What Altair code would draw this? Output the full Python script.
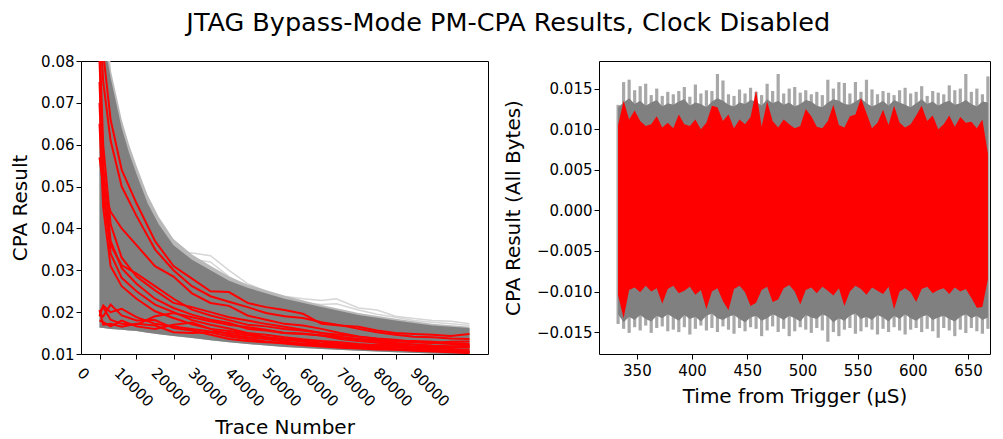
import altair as alt
import pandas as pd

FONT = "DejaVu Sans"

# ---------------- Left panel data ----------------
left_xticks = [0, 10000, 20000, 30000, 40000, 50000, 60000, 70000, 80000, 90000]
left_yticks = [0.01, 0.02, 0.03, 0.04, 0.05, 0.06, 0.07, 0.08]

# envelope of the dense grey bundle of all key guesses
TG = [0, 500, 1000, 2000, 3000, 4000, 6000, 8000, 10000, 13000, 16000, 20000,
      25000, 30000, 35000, 40000, 50000, 60000, 70000, 80000, 90000, 99999]
gray_edge = [0.145, 0.125, 0.108, 0.083, 0.078, 0.074, 0.066, 0.060, 0.055, 0.048, 0.0428, 0.0375,
             0.0338, 0.0311, 0.0285, 0.0266, 0.0239, 0.0217, 0.0198, 0.0184, 0.0172, 0.0165]
gray_hi = [0.140, 0.120, 0.105, 0.081, 0.076, 0.072, 0.064, 0.058, 0.053, 0.046, 0.041, 0.036,
           0.0325, 0.0300, 0.0275, 0.0258, 0.0232, 0.0212, 0.0193, 0.0180, 0.0168, 0.0162]
gray_lo = [0.0163, 0.0163, 0.0162, 0.0161, 0.0160, 0.0159, 0.0158, 0.0156, 0.0155, 0.0151, 0.0147, 0.0143,
           0.0138, 0.0133, 0.0128, 0.0124, 0.0117, 0.0112, 0.0108, 0.0104, 0.0101, 0.0099]

# faint outlier grey traces
TF = [0, 3000, 6000, 10000, 14000, 17000, 19000, 22000, 26000, 30000, 35000, 40000,
      45000, 50000, 55000, 60000, 64000, 70000, 75000, 80000, 85000, 90000, 95000, 99999]
faint1 = [0.12, 0.076, 0.064, 0.054, 0.045, 0.0394, 0.037, 0.0345, 0.034, 0.0335, 0.030, 0.0268,
          0.025, 0.0238, 0.0232, 0.0228, 0.0232, 0.021, 0.0205, 0.019, 0.0185, 0.018, 0.0178, 0.0172]
faint2 = [0.11, 0.075, 0.063, 0.053, 0.044, 0.037, 0.0355, 0.0335, 0.0325, 0.032, 0.0285, 0.026,
          0.0245, 0.0235, 0.0222, 0.0218, 0.022, 0.0205, 0.0195, 0.0188, 0.018, 0.0176, 0.0172, 0.0168]

# red traces (correct key bytes)
TR = [0, 1000, 3000, 6000, 10000, 15000, 20000, 25000, 30000, 35000, 40000, 45000,
      50000, 55000, 60000, 65000, 70000, 75000, 80000, 85000, 90000, 95000, 99999]
red_curves = {
    "r1": [0.100, 0.082, 0.066, 0.054, 0.046, 0.037, 0.031, 0.028, 0.025, 0.0248, 0.0222, 0.0212, 0.0205, 0.0196, 0.0172, 0.0168, 0.0165, 0.0156, 0.0150, 0.0148, 0.0146, 0.0143, 0.0148],
    "r2": [0.092, 0.075, 0.061, 0.050, 0.043, 0.035, 0.030, 0.0262, 0.0238, 0.0225, 0.0212, 0.0198, 0.0190, 0.0186, 0.0176, 0.0169, 0.0160, 0.0152, 0.0146, 0.0141, 0.0140, 0.0137, 0.0136],
    "r3": [0.057, 0.050, 0.044, 0.040, 0.036, 0.031, 0.0285, 0.0245, 0.0222, 0.0215, 0.0192, 0.0182, 0.0172, 0.0168, 0.0160, 0.0150, 0.0142, 0.0136, 0.0131, 0.0128, 0.0126, 0.0129, 0.0130],
    "r4": [0.085, 0.060, 0.041, 0.033, 0.0285, 0.0252, 0.0222, 0.0212, 0.0200, 0.0188, 0.0180, 0.0172, 0.0165, 0.0158, 0.0150, 0.0146, 0.0141, 0.0137, 0.0134, 0.0129, 0.0126, 0.0124, 0.0121],
    "r5": [0.080, 0.055, 0.037, 0.0305, 0.0268, 0.0232, 0.0210, 0.0194, 0.0182, 0.0174, 0.0160, 0.0156, 0.0150, 0.0149, 0.0144, 0.0136, 0.0131, 0.0127, 0.0124, 0.0122, 0.0120, 0.0117, 0.0116],
    "r6": [0.075, 0.050, 0.034, 0.0282, 0.0250, 0.0218, 0.0200, 0.0181, 0.0170, 0.0161, 0.0150, 0.0146, 0.0140, 0.0135, 0.0131, 0.0128, 0.0124, 0.0121, 0.0119, 0.0116, 0.0114, 0.0112, 0.0110],
    "r7": [0.070, 0.048, 0.036, 0.0312, 0.0292, 0.0262, 0.0232, 0.0206, 0.0192, 0.0181, 0.0170, 0.0166, 0.0160, 0.0156, 0.0150, 0.0141, 0.0136, 0.0133, 0.0130, 0.0131, 0.0129, 0.0126, 0.0124],
    "r8": [0.065, 0.045, 0.031, 0.0262, 0.0232, 0.0202, 0.0186, 0.0171, 0.0160, 0.0155, 0.0149, 0.0140, 0.0134, 0.0130, 0.0125, 0.0121, 0.0118, 0.0115, 0.0112, 0.0110, 0.0108, 0.0106, 0.0105],
    "r9": [0.0200, 0.0212, 0.0182, 0.0172, 0.0170, 0.0190, 0.0198, 0.0188, 0.0178, 0.0170, 0.0164, 0.0158, 0.0150, 0.0148, 0.0144, 0.0139, 0.0135, 0.0130, 0.0126, 0.0123, 0.0120, 0.0118, 0.0116],
    "r10": [0.0190, 0.0216, 0.0200, 0.0208, 0.0188, 0.0172, 0.0166, 0.0160, 0.0154, 0.0150, 0.0145, 0.0140, 0.0136, 0.0133, 0.0130, 0.0124, 0.0121, 0.0118, 0.0116, 0.0113, 0.0110, 0.0108, 0.0106],
    "r11": [0.0180, 0.0176, 0.0166, 0.0180, 0.0166, 0.0160, 0.0170, 0.0175, 0.0160, 0.0146, 0.0140, 0.0136, 0.0130, 0.0124, 0.0120, 0.0118, 0.0116, 0.0113, 0.0111, 0.0109, 0.0108, 0.0106, 0.0105],
    "r12": [0.0195, 0.0190, 0.0218, 0.0192, 0.0180, 0.0181, 0.0162, 0.0156, 0.0146, 0.0136, 0.0131, 0.0128, 0.0126, 0.0125, 0.0124, 0.0122, 0.0120, 0.0122, 0.0121, 0.0118, 0.0116, 0.0118, 0.0120],
    "r13": [0.0205, 0.0170, 0.0172, 0.0165, 0.0172, 0.0168, 0.0152, 0.0150, 0.0152, 0.0142, 0.0136, 0.0130, 0.0125, 0.0121, 0.0118, 0.0115, 0.0113, 0.0111, 0.0110, 0.0108, 0.0106, 0.0104, 0.0102],
}

# ---------------- Right panel data ----------------
right_xticks = [350, 400, 450, 500, 550, 600, 650]
right_yticks = [-0.015, -0.010, -0.005, 0.0, 0.005, 0.010, 0.015]
times = list(range(333, 669, 5))

red_hi = [0.0105, 0.0135, 0.0112, 0.0123, 0.0110, 0.0104, 0.0106, 0.0116, 0.0102, 0.0108,
          0.0101, 0.0118, 0.0106, 0.0104, 0.0112, 0.0100, 0.0108, 0.0129, 0.0127, 0.0110,
          0.0118, 0.0101, 0.0112, 0.0106, 0.0115, 0.0148, 0.0103, 0.0134, 0.0110, 0.0102,
          0.0112, 0.0106, 0.0101, 0.0104, 0.0125, 0.0116, 0.0103, 0.0101, 0.0110, 0.0130,
          0.0105, 0.0102, 0.0116, 0.0118, 0.0138, 0.0120, 0.0101, 0.0108, 0.0124, 0.0105,
          0.0129, 0.0108, 0.0102, 0.0106, 0.0117, 0.0129, 0.0110, 0.0117, 0.0100, 0.0106,
          0.0117, 0.0103, 0.0115, 0.0108, 0.0109, 0.0101, 0.0112, 0.0070]
red_lo = [-0.0105, -0.0133, -0.0098, -0.0095, -0.0101, -0.0093, -0.0100, -0.0096, -0.0115, -0.0097,
          -0.0093, -0.0102, -0.0099, -0.0094, -0.0104, -0.0098, -0.0122, -0.0100, -0.0096, -0.0112,
          -0.0123, -0.0097, -0.0093, -0.0101, -0.0118, -0.0114, -0.0098, -0.0094, -0.0113, -0.0110,
          -0.0096, -0.0092, -0.0100, -0.0116, -0.0098, -0.0095, -0.0102, -0.0094, -0.0099, -0.0105,
          -0.0096, -0.0118, -0.0100, -0.0093, -0.0097, -0.0104, -0.0095, -0.0099, -0.0103, -0.0094,
          -0.0122, -0.0100, -0.0096, -0.0101, -0.0113, -0.0097, -0.0094, -0.0102, -0.0098, -0.0096,
          -0.0103, -0.0095, -0.0100, -0.0097, -0.0108, -0.0120, -0.0119, -0.0085]
gray_fringe_hi = [0.0130, 0.0158, 0.0161, 0.0148, 0.0153, 0.0156, 0.0142, 0.0150, 0.0141, 0.0146,
                  0.0143, 0.0147, 0.0152, 0.0140, 0.0155, 0.0144, 0.0148, 0.0147, 0.0168, 0.0160,
                  0.0143, 0.0141, 0.0149, 0.0144, 0.0151, 0.0146, 0.0142, 0.0156, 0.0147, 0.0168,
                  0.0144, 0.0150, 0.0152, 0.0145, 0.0148, 0.0143, 0.0146, 0.0142, 0.0161, 0.0150,
                  0.0158, 0.0157, 0.0144, 0.0158, 0.0146, 0.0161, 0.0149, 0.0143, 0.0147, 0.0145,
                  0.0142, 0.0148, 0.0151, 0.0144, 0.0146, 0.0153, 0.0141, 0.0147, 0.0145, 0.0143,
                  0.0154, 0.0148, 0.0150, 0.0168, 0.0146, 0.0150, 0.0143, 0.0165]
gray_dense_hi = [0.0127, 0.0133, 0.0138, 0.0131, 0.0135, 0.0129, 0.0133, 0.0136, 0.0128, 0.0132,
                 0.0130, 0.0134, 0.0137, 0.0129, 0.0133, 0.0131, 0.0127, 0.0134, 0.0138, 0.0135,
                 0.0130, 0.0128, 0.0133, 0.0131, 0.0136, 0.0134, 0.0129, 0.0137, 0.0132, 0.0135,
                 0.0130, 0.0133, 0.0128, 0.0131, 0.0136, 0.0134, 0.0129, 0.0127, 0.0133, 0.0137,
                 0.0135, 0.0131, 0.0130, 0.0134, 0.0138, 0.0132, 0.0128, 0.0131, 0.0135, 0.0129,
                 0.0136, 0.0133, 0.0130, 0.0127, 0.0132, 0.0137, 0.0131, 0.0134, 0.0129, 0.0133,
                 0.0135, 0.0130, 0.0132, 0.0136, 0.0131, 0.0128, 0.0134, 0.0133]
gray_dense_lo = [-0.0128, -0.0138, -0.0131, -0.0135, -0.0129, -0.0134, -0.0137, -0.0130, -0.0133, -0.0128,
                 -0.0132, -0.0136, -0.0129, -0.0134, -0.0131, -0.0137, -0.0130, -0.0127, -0.0133, -0.0135,
                 -0.0131, -0.0129, -0.0134, -0.0138, -0.0132, -0.0130, -0.0136, -0.0133, -0.0128, -0.0131,
                 -0.0135, -0.0130, -0.0133, -0.0137, -0.0129, -0.0132, -0.0134, -0.0128, -0.0131, -0.0138,
                 -0.0133, -0.0136, -0.0130, -0.0127, -0.0134, -0.0131, -0.0135, -0.0129, -0.0132, -0.0137,
                 -0.0130, -0.0134, -0.0128, -0.0133, -0.0136, -0.0131, -0.0129, -0.0135, -0.0132, -0.0130,
                 -0.0134, -0.0137, -0.0131, -0.0128, -0.0133, -0.0130, -0.0135, -0.0132]
gray_fringe_lo = [-0.0140, -0.0146, -0.0151, -0.0144, -0.0148, -0.0142, -0.0151, -0.0145, -0.0143, -0.0149,
                  -0.0147, -0.0150, -0.0144, -0.0153, -0.0146, -0.0142, -0.0148, -0.0145, -0.0150, -0.0143,
                  -0.0147, -0.0152, -0.0145, -0.0149, -0.0144, -0.0146, -0.0155, -0.0148, -0.0143, -0.0150,
                  -0.0146, -0.0155, -0.0149, -0.0144, -0.0147, -0.0151, -0.0145, -0.0148, -0.0162, -0.0150,
                  -0.0155, -0.0147, -0.0145, -0.0152, -0.0149, -0.0144, -0.0147, -0.0153, -0.0146, -0.0150,
                  -0.0144, -0.0148, -0.0153, -0.0147, -0.0145, -0.0150, -0.0146, -0.0149, -0.0157, -0.0145,
                  -0.0148, -0.0155, -0.0147, -0.0151, -0.0145, -0.0149, -0.0152, -0.0146]

# ---------------- Build tables ----------------
gray_df = pd.DataFrame({"trace": TG, "lo": gray_lo, "hi": gray_hi, "edge": gray_edge})
faint_df = pd.concat([
    pd.DataFrame({"trace": TF, "v": faint1, "k": "f1"}),
    pd.DataFrame({"trace": TF, "v": faint2, "k": "f2"}),
])
red_df = pd.concat([pd.DataFrame({"trace": TR, "v": vals, "k": name})
                    for name, vals in red_curves.items()])

right_df = pd.DataFrame({
    "t": times, "rhi": red_hi, "rlo": red_lo,
    "fhi": gray_fringe_hi, "flo": gray_fringe_lo,
    "dhi": gray_dense_hi, "dlo": gray_dense_lo,
})

# ---------------- Left chart ----------------
xL_scale = alt.Scale(domain=[-5000, 105000], nice=False, zero=False)
yL_scale = alt.Scale(domain=[0.01, 0.08], nice=False, zero=False)
xL_axis = alt.Axis(values=left_xticks, format="d", title="Trace Number",
                   labelAngle=45, labelAlign="left", labelBaseline="top",
                   labelOffset=-15, labelPadding=6, titlePadding=8, labelOverlap=False)
yL_axis = alt.Axis(values=left_yticks, format=".2f", title="CPA Result", titlePadding=10)

edge_area = alt.Chart(gray_df).mark_area(color="#b9b9b9", clip=True).encode(
    x=alt.X("trace:Q", scale=xL_scale, axis=xL_axis),
    y=alt.Y("lo:Q", scale=yL_scale, axis=yL_axis),
    y2="edge:Q",
)
gray_area = alt.Chart(gray_df).mark_area(color="#808080", clip=True).encode(
    x=alt.X("trace:Q", scale=xL_scale, axis=xL_axis),
    y=alt.Y("lo:Q", scale=yL_scale, axis=yL_axis),
    y2="hi:Q",
)
faint_lines = alt.Chart(faint_df).mark_line(color="#d6d6d6", strokeWidth=1.5, clip=True).encode(
    x=alt.X("trace:Q", scale=xL_scale, axis=xL_axis),
    y=alt.Y("v:Q", scale=yL_scale, axis=yL_axis),
    detail="k:N",
)
red_lines = alt.Chart(red_df).mark_line(color="#ff0000", strokeWidth=2, clip=True).encode(
    x=alt.X("trace:Q", scale=xL_scale, axis=xL_axis),
    y=alt.Y("v:Q", scale=yL_scale, axis=yL_axis),
    detail="k:N",
)
left = alt.layer(faint_lines, edge_area, gray_area, red_lines).properties(width=407, height=293)

# ---------------- Right chart ----------------
xR_scale = alt.Scale(domain=[315.7, 669.9], nice=False, zero=False)
yR_scale = alt.Scale(domain=[-0.0177, 0.0184], nice=False, zero=False)
xR_axis = alt.Axis(values=right_xticks, format="d", title="Time from Trigger (μS)",
                   labelPadding=4, titlePadding=8)
yR_axis = alt.Axis(values=right_yticks, format=".3f", title="CPA Result (All Bytes)", titlePadding=13)

fringe = alt.Chart(right_df).mark_rule(color="#a8a8a8", strokeWidth=3.2, clip=True).encode(
    x=alt.X("t:Q", scale=xR_scale, axis=xR_axis),
    y=alt.Y("flo:Q", scale=yR_scale, axis=yR_axis),
    y2="fhi:Q",
)
dense = alt.Chart(right_df).mark_area(color="#808080", interpolate="linear", clip=True).encode(
    x=alt.X("t:Q", scale=xR_scale, axis=xR_axis),
    y=alt.Y("dlo:Q", scale=yR_scale, axis=yR_axis),
    y2="dhi:Q",
)
redband = alt.Chart(right_df).mark_area(color="#ff0000", interpolate="linear", clip=True).encode(
    x=alt.X("t:Q", scale=xR_scale, axis=xR_axis),
    y=alt.Y("rlo:Q", scale=yR_scale, axis=yR_axis),
    y2="rhi:Q",
)
right = alt.layer(fringe, dense, redband).properties(width=391, height=293)

chart = alt.hconcat(left, right, spacing=13).properties(
    title=alt.TitleParams(
        text="JTAG Bypass-Mode PM-CPA Results, Clock Disabled",
        font=FONT, fontSize=25.5, fontWeight="normal", color="black",
        anchor="middle", offset=17, dx=8,
    ),
    padding={"left": 2, "top": 3, "right": 0, "bottom": 0},
).configure_view(
    stroke="black", strokeWidth=1
).configure_axis(
    labelFont=FONT, titleFont=FONT, labelFontSize=15, titleFontSize=20,
    labelColor="black", titleColor="black", tickColor="black",
    titleFontWeight="normal", domain=False, grid=False, tickSize=5, tickWidth=1,
)

chart.save("out.html", embed_options={"renderer": "svg", "actions": False})
